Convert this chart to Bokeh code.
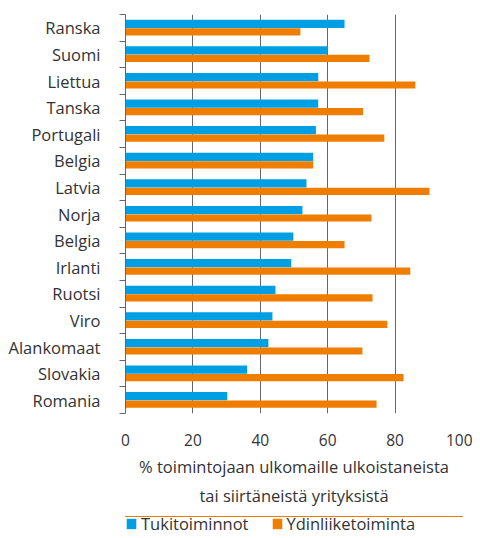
from bokeh.plotting import figure
from bokeh.models import Range1d, FixedTicker, Legend, LegendItem, ColumnDataSource, Title
from bokeh.layouts import column
from bokeh.embed import file_html
from bokeh.resources import INLINE

countries = ["Ranska", "Suomi", "Liettua", "Tanska", "Portugali", "Belgia", "Latvia",
             "Norja", "Belgia", "Irlanti", "Ruotsi", "Viro", "Alankomaat", "Slovakia", "Romania"]
tuki = [65, 60, 57.2, 57.2, 56.5, 55.7, 53.7, 52.5, 49.8, 49.2, 44.5, 43.6, 42.4, 36.1, 30.2]
ydin = [51.9, 72.4, 86, 70.5, 76.8, 55.7, 90.2, 73, 65, 84.5, 73.3, 77.7, 70.3, 82.5, 74.5]
series_names = ["Tukitoiminnot", "Ydinliiketoiminta"]
x_ticks = [0, 20, 40, 60, 80, 100]
x_title_lines = ["% toimintojaan ulkomaille ulkoistaneista", "tai siirtäneistä yrityksistä"]

BLUE = "#009fe3"
ORANGE = "#ef7d00"
GRID = "#666666"
TEXT = "#333333"
FONT = "Open Sans"

idx = list(range(len(countries)))
src = ColumnDataSource(dict(
    y_t=[i - 0.15 for i in idx],
    y_y=[i + 0.15 for i in idx],
    tuki=tuki, ydin=ydin,
))

p = figure(output_backend="svg", toolbar_location=None,
           width=472, height=516,
           min_border_left=125, min_border_right=10, min_border_top=14, min_border_bottom=103,
           x_range=Range1d(0, 100), y_range=Range1d(len(countries) - 0.5, -0.5))
p.outline_line_color = None

p.hbar(y="y_t", left=0, right="tuki", height=0.31, source=src, color=BLUE, line_color=None)
p.hbar(y="y_y", left=0, right="ydin", height=0.27, source=src, color=ORANGE, line_color=None)

# y axis
p.yaxis.ticker = FixedTicker(ticks=idx, minor_ticks=[i - 0.5 for i in range(len(countries) + 1)])
p.yaxis.major_label_overrides = {i: c for i, c in enumerate(countries)}
p.yaxis.major_tick_line_color = None
p.yaxis.major_tick_out = 0
p.yaxis.major_tick_in = 0
p.yaxis.minor_tick_line_color = GRID
p.yaxis.minor_tick_out = 6
p.yaxis.minor_tick_in = 0
p.yaxis.axis_line_color = GRID
p.yaxis.major_label_standoff = 19
p.yaxis.major_label_text_font = FONT
p.yaxis.major_label_text_font_size = "16.5px"
p.yaxis.major_label_text_color = TEXT
p.ygrid.grid_line_color = None

# x axis
p.xaxis.ticker = FixedTicker(ticks=x_ticks)
p.xaxis.axis_line_color = None
p.xaxis.major_tick_line_color = None
p.xaxis.minor_tick_line_color = None
p.xaxis.major_tick_out = 0
p.xaxis.major_label_standoff = 20
p.xaxis.major_label_text_font = FONT
p.xaxis.major_label_text_font_size = "15.5px"
p.xaxis.major_label_text_color = TEXT
p.xgrid.ticker = FixedTicker(ticks=x_ticks[1:])
p.xgrid.grid_line_color = GRID
p.xgrid.grid_line_width = 1
p.xgrid.level = "underlay"

for k, line in enumerate(x_title_lines):
    t = Title(text=line, align="center", text_font=FONT, text_font_size="16.5px",
              text_font_style="normal", text_color=TEXT,
              standoff=8 if k == 0 else 0, offset=0)
    p.add_layout(t, "below")

# legend strip below the chart (bars kept out of its view; only the legend shows)
lf = figure(output_backend="svg", toolbar_location=None, width=472, height=22,
            min_border=0, x_axis_type=None, y_axis_type=None,
            x_range=Range1d(0, 1), y_range=Range1d(-100, -99))
lf.outline_line_color = None
lf.xgrid.grid_line_color = None
lf.ygrid.grid_line_color = None
l1 = lf.hbar(y="y_t", left=0, right="tuki", height=0.3, source=src, color=BLUE, line_color=None)
l2 = lf.hbar(y="y_y", left=0, right="ydin", height=0.3, source=src, color=ORANGE, line_color=None)

legend = Legend(items=[LegendItem(label=series_names[0], renderers=[l1]),
                       LegendItem(label=series_names[1], renderers=[l2])],
                orientation="horizontal", location=(0, 3),
                border_line_color=None, background_fill_alpha=0,
                padding=0, margin=0, spacing=22,
                glyph_width=12, glyph_height=13, label_height=13,
                label_standoff=4,
                label_text_font=FONT, label_text_font_size="16.5px", label_text_color=TEXT)
lf.add_layout(legend, "center")

layout = column(p, lf, spacing=0)
open("out.html", "w").write(file_html(layout, INLINE))
